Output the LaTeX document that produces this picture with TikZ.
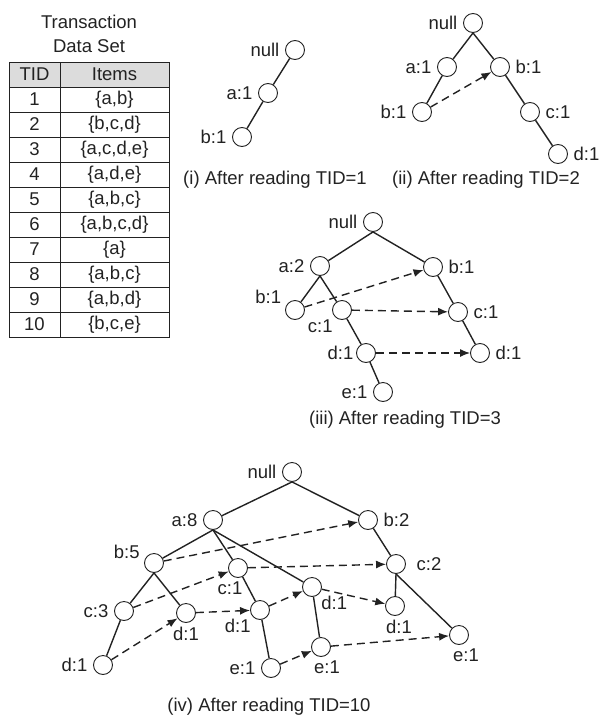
\documentclass[tikz,border=0pt]{standalone}
\usepackage{fontspec}
\setmainfont{Liberation Sans}
\usetikzlibrary{arrows.meta}
\definecolor{dark}{HTML}{222222}
\definecolor{headgray}{HTML}{DCDCDC}
\tikzset{
  fpnode/.style={circle, draw=dark, line width=0.9pt, fill=white, minimum size=19pt, inner sep=0pt},
  treeline/.style={line width=1.4pt, draw=dark},
  nodelink/.style={line width=1.4pt, draw=dark, dash pattern=on 8pt off 5pt, -{Latex[length=10pt,width=8pt]}},
  capt/.style={inner sep=0pt},
  cell/.style={inner sep=0pt},
  every label/.style={inner sep=1.5pt, text=dark},
  label distance=4pt
}

\begin{document}
\begin{tikzpicture}[x=1pt, y=-1pt, font=\fontsize{18.5}{24}\selectfont, text=dark]
  \useasboundingbox (0,0) rectangle (599,718);

  \node[align=center, inner sep=0pt] (title) at (89,34) {Transaction\\Data Set};
  \fill[headgray] (9,62) rectangle (169,87);
  \draw[line width=1pt, draw=dark] (9,62) rectangle (169,337);
  \draw[line width=1pt, draw=dark] (60,62) -- (60,337);
  \foreach \k in {0,...,9}
    \draw[line width=1pt, draw=dark] (9,87+25*\k) -- (169,87+25*\k);
  \node[cell] (tidhead) at (34.5,74.5) {TID};
  \node[cell] (itemshead) at (114.5,74.5) {Items};
  \foreach \tid/\items [count=\r] in {1/{\{a,b\}}, 2/{\{b,c,d\}}, 3/{\{a,c,d,e\}}, 4/{\{a,d,e\}}, 5/{\{a,b,c\}},
      6/{\{a,b,c,d\}}, 7/{\{a\}}, 8/{\{a,b,c\}}, 9/{\{a,b,d\}}, 10/{\{b,c,e\}}} {
    \node[cell] (tid\r) at (34.5,74.5+25*\r) {\tid};
    \node[cell] (items\r) at (114.5,74.5+25*\r) {\items};
  }

  \node[fpnode, label=left:{null}] (inull) at (295,50) {};
  \node[fpnode, label=left:{a:1}] (ia) at (268,93) {};
  \node[fpnode, label=left:{b:1}] (ib) at (242,137) {};
  \draw[treeline] (inull) -- (ia);
  \draw[treeline] (ia) -- (ib);
  \node[capt] (capi) at (275,180) {(i) After reading TID=1};

  \node[fpnode, label=left:{null}] (iinull) at (473,23) {};
  \node[fpnode, label=left:{a:1}] (iia) at (447,67) {};
  \node[fpnode, label=right:{b:1}] (iib) at (500,67) {};
  \node[fpnode, label=left:{b:1}] (iiab) at (422,112) {};
  \node[fpnode, label=right:{c:1}] (iibc) at (530,112) {};
  \node[fpnode, label=right:{d:1}] (iibcd) at (558,154) {};
  \draw[treeline] (iinull.south) -- (iia);
  \draw[treeline] (iinull.south) -- (iib);
  \draw[treeline] (iia) -- (iiab);
  \draw[treeline] (iib) -- (iibc);
  \draw[treeline] (iibc) -- (iibcd);
  \draw[nodelink] (iiab) -- (iib);
  \node[capt] (capii) at (486,180) {(ii) After reading TID=2};

  \node[fpnode, label=left:{null}] (iiinull) at (373,222) {};
  \node[fpnode, label=left:{a:2}] (iiia) at (320,266) {};
  \node[fpnode, label=right:{b:1}] (iiib) at (433,267) {};
  \node[fpnode, label={[label distance=3pt]160:{b:1}}] (iiiab) at (295,310) {};
  \node[fpnode, label={[label distance=1pt]below left:{c:1}}] (iiiac) at (342,310) {};
  \node[fpnode, label=right:{c:1}] (iiibc) at (458,312) {};
  \node[fpnode, label={[label distance=1pt]left:{d:1}}] (iiiacd) at (366,353) {};
  \node[fpnode, label=right:{d:1}] (iiibcd) at (480,353) {};
  \node[fpnode, label=left:{e:1}] (iiiacde) at (383,392) {};
  \draw[treeline] (iiinull.south) -- (iiia);
  \draw[treeline] (iiinull.south) -- (iiib);
  \draw[treeline] (iiia.south) -- (iiiab);
  \draw[treeline] (iiia.south) -- (iiiac);
  \draw[treeline] (iiiac) -- (iiiacd);
  \draw[treeline] (iiiacd) -- (iiiacde);
  \draw[treeline] (iiib) -- (iiibc);
  \draw[treeline] (iiibc) -- (iiibcd);
  \draw[nodelink] (iiiab) -- (iiib);
  \draw[nodelink] (iiiac) -- (iiibc);
  \draw[nodelink] (iiiacd) -- (iiibcd);
  \node[capt] (capiii) at (405,420) {(iii) After reading TID=3};

  \node[fpnode, label=left:{null}] (ivnull) at (292,472) {};
  \node[fpnode, label=left:{a:8}] (iva) at (213,520) {};
  \node[fpnode, label=right:{b:2}] (ivb) at (368,520) {};
  \node[fpnode, label={[label distance=3pt]170:{b:5}}] (ivab) at (154,563) {};
  \node[fpnode, label={[xshift=-8pt, label distance=2pt]below:{c:1}}] (ivac) at (238,568) {};
  \node[fpnode, label={[label distance=1pt]below right:{d:1}}] (ivad) at (312,587) {};
  \node[fpnode, label=left:{c:3}] (ivabc) at (124,611) {};
  \node[fpnode, label={[label distance=2pt]below:{d:1}}] (ivabd) at (186,613) {};
  \node[fpnode, label={[label distance=1pt]below left:{d:1}}] (ivacd) at (260,610) {};
  \node[fpnode, label=left:{d:1}] (ivabcd) at (103,665) {};
  \node[fpnode, label=left:{e:1}] (ivacde) at (271,668) {};
  \node[fpnode, label={[xshift=6pt, label distance=2pt]below:{e:1}}] (ivade) at (321,647) {};
  \node[fpnode, label={[label distance=9pt]right:{c:2}}] (ivbc) at (396,564) {};
  \node[fpnode, label={[xshift=4pt, label distance=2pt]below:{d:1}}] (ivbcd) at (395,606) {};
  \node[fpnode, label={[xshift=7pt, label distance=2pt]below:{e:1}}] (ivbce) at (459,635) {};
  \draw[treeline] (ivnull.south) -- (iva);
  \draw[treeline] (ivnull.south) -- (ivb);
  \draw[treeline] (iva.south) -- (ivab);
  \draw[treeline] (iva.south) -- (ivac);
  \draw[treeline] (iva.south) -- (ivad);
  \draw[treeline] (ivab.south) -- (ivabc);
  \draw[treeline] (ivab.south) -- (ivabd);
  \draw[treeline] (ivabc) -- (ivabcd);
  \draw[treeline] (ivac) -- (ivacd);
  \draw[treeline] (ivacd) -- (ivacde);
  \draw[treeline] (ivad) -- (ivade);
  \draw[treeline] (ivb) -- (ivbc);
  \draw[treeline] (ivbc.south) -- (ivbcd);
  \draw[treeline] (ivbc.south) -- (ivbce);
  \draw[nodelink] (ivab) -- (ivb);
  \draw[nodelink] (ivabc) -- (ivac);
  \draw[nodelink] (ivac) -- (ivbc);
  \draw[nodelink] (ivabcd) -- (ivabd);
  \draw[nodelink] (ivabd) -- (ivacd);
  \draw[nodelink] (ivacd) -- (ivad);
  \draw[nodelink] (ivad) -- (ivbcd);
  \draw[nodelink] (ivacde) -- (ivade);
  \draw[nodelink] (ivade) -- (ivbce);
  \node[capt] (capiv) at (269,707) {(iv) After reading TID=10};
\end{tikzpicture}
\end{document}
